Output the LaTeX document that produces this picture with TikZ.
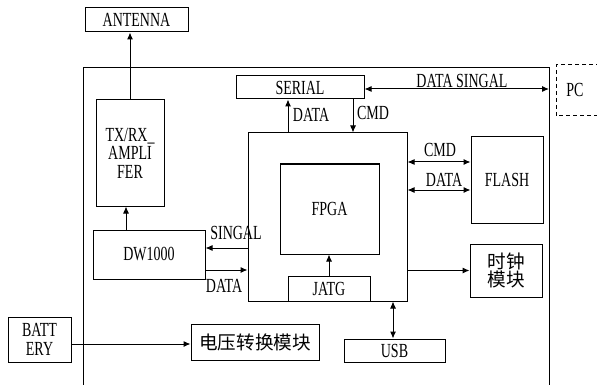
\documentclass[tikz,border=0pt]{standalone}
\usepackage{fontspec}
\setmainfont{Liberation Serif}[FakeStretch=0.7]
\newfontfamily\cjk{Noto Sans CJK SC}[Scale=0.93]
\usetikzlibrary{arrows.meta}
\tikzset{
  box/.style={draw, line width=1pt, inner sep=0pt, align=center, font=\fontsize{20}{18.5}\selectfont},
  lbl/.style={inner sep=0pt, font=\fontsize{20}{18.5}\selectfont},
  arr/.style={line width=1pt, -{Latex[length=7pt,width=6pt]}},
  darr/.style={line width=1pt, {Latex[length=7pt,width=6pt]}-{Latex[length=7pt,width=6pt]}},
}
\begin{document}
\begin{tikzpicture}[x=1pt,y=-1pt]
\useasboundingbox[fill=white] (0,0) rectangle (597,385);
% outer frame (open at bottom)
\coordinate (obl) at (83,385);
\coordinate (otl) at (83,68);
\coordinate (otr) at (549,68);
\coordinate (obr) at (549,385);
\draw[line width=1pt] (obl) -- (otl) -- (otr) -- (obr);
% PC dashed box (cut by the right edge)
\coordinate (pc1) at (600,65);
\coordinate (pc2) at (556,65);
\coordinate (pc3) at (556,116);
\coordinate (pc4) at (600,116);
\draw[line width=1pt, dashed, dash pattern=on 4pt off 3pt] (pc1) -- (pc2) -- (pc3) -- (pc4);
\node[lbl] (pc) at (575,90) {PC};
% boxes
\node[box, minimum width=103pt, minimum height=24pt] (antenna) at (136.5,20) {ANTENNA};
\node[box, minimum width=68pt, minimum height=106pt] (txrx) at (130,153) {TX/RX\_\\AMPLI\\FER};
\node[box, minimum width=112pt, minimum height=49pt] (dw) at (149,254.5) {DW1000};
\node[box, minimum width=159pt, minimum height=168pt] (fpgao) at (327.5,217) {};
\node[box, minimum width=99pt, minimum height=90pt] (fpgai) at (329.5,209) {FPGA};
\node[box, minimum width=82pt, minimum height=25pt] (jatg) at (329,288.5) {JATG};
\node[box, minimum width=128pt, minimum height=23pt] (serial) at (300,87.5) {SERIAL};
\node[box, minimum width=72pt, minimum height=86pt] (flash) at (507,180) {FLASH};
\node[box, minimum width=72pt, minimum height=53pt] (clock) at (506,270.5) {\cjk 时钟\\\cjk 模块};
\node[box, minimum width=101pt, minimum height=23pt] (usb) at (394.5,350.5) {USB};
\node[box, minimum width=63pt, minimum height=45pt] (bat) at (39.5,339.5) {BATT\\ERY};
\node[box, minimum width=128pt, minimum height=36pt] (volt) at (255,342) {\cjk 电压转换模块};
% connectors
\draw[arr] (txrx.north) -- (txrx.north |- antenna.south);
\draw[arr] ([xshift=-23pt]dw.north) -- ([xshift=-23pt]dw.north |- txrx.south);
\draw[arr] ([yshift=6.5pt]dw.east -| fpgao.west) -- ([yshift=6.5pt]dw.east);
\draw[arr] ([yshift=-15.5pt]dw.east) -- ([yshift=-15.5pt]dw.east -| fpgao.west);
\draw[arr] ([xshift=-12pt]serial.south |- fpgao.north) -- ([xshift=-12pt]serial.south);
\draw[arr] ([xshift=53pt]serial.south) -- ([xshift=53pt]serial.south |- fpgao.north);
\coordinate (outR) at (549,89);
\draw[darr] ([yshift=-1.5pt]serial.east) -- (outR);
\draw[darr] ([yshift=18pt]flash.west -| fpgao.east) -- ([yshift=18pt]flash.west);
\draw[darr] ([yshift=-10pt]flash.west -| fpgao.east) -- ([yshift=-10pt]flash.west);
\draw[arr] (clock.west -| fpgao.east) -- (clock.west);
\draw[darr] ([xshift=-1.5pt]usb.north |- fpgao.south) -- ([xshift=-1.5pt]usb.north);
\draw[arr] (jatg.north) -- (jatg.north |- fpgai.south);
\draw[arr] ([yshift=-4.5pt]bat.east) -- ([yshift=-4.5pt]bat.east -| volt.west);
% labels
\node[lbl] (lsingal) at (236,233) {SINGAL};
\node[lbl] (ldata1) at (224,286) {DATA};
\node[lbl] (ldata2) at (311,115) {DATA};
\node[lbl] (lcmd1) at (373,113) {CMD};
\node[lbl] (lds) at (462,81) {DATA SINGAL};
\node[lbl] (lcmd2) at (440,150) {CMD};
\node[lbl] (ldata3) at (444,180) {DATA};
\end{tikzpicture}
\end{document}
